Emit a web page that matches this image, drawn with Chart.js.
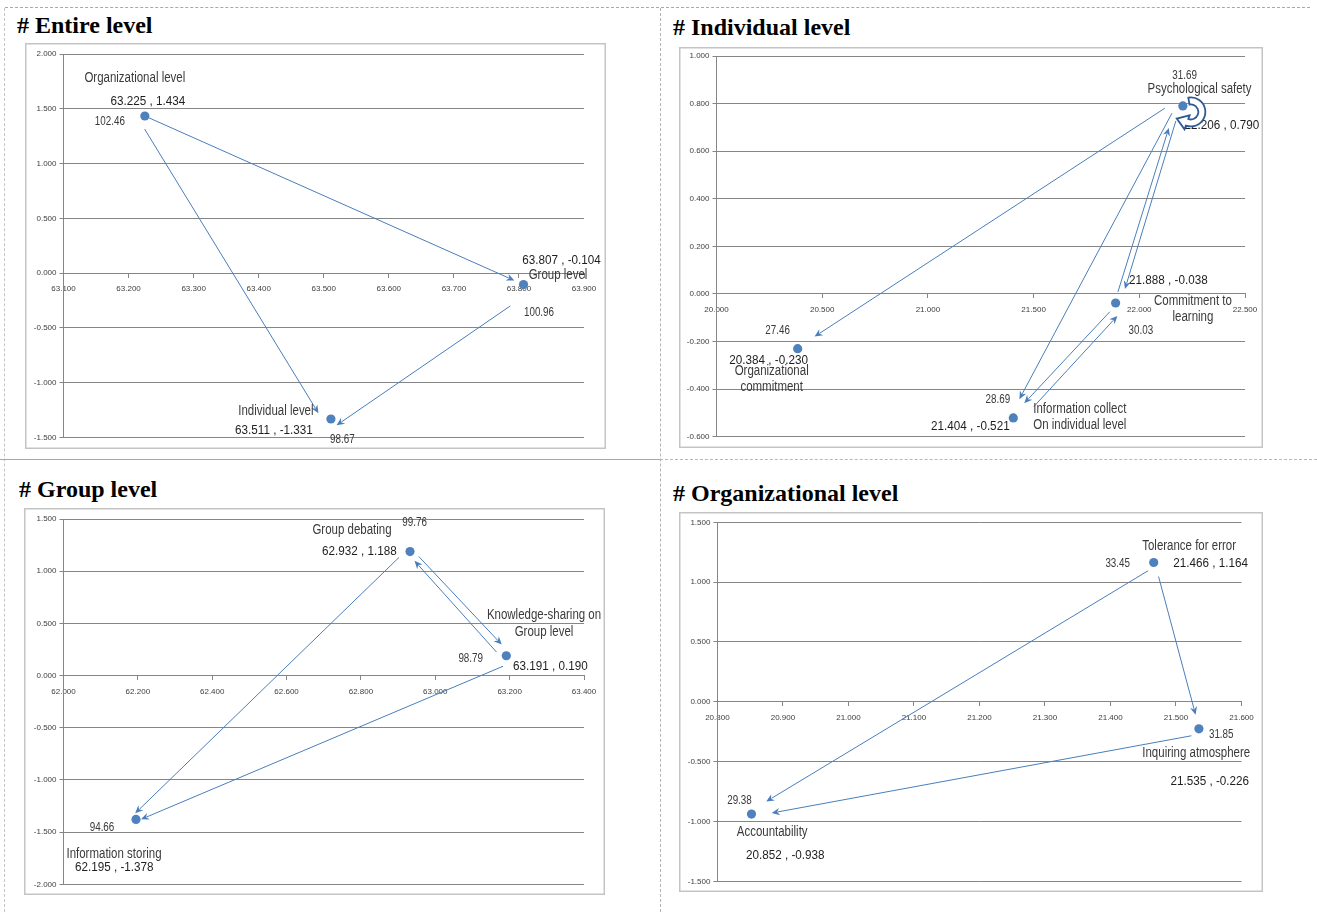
<!DOCTYPE html>
<html>
<head>
<meta charset="utf-8">
<script src="https://cdn.jsdelivr.net/npm/chart.js@4.4.0/dist/chart.umd.min.js"></script>
<style>
  body { margin: 0; width: 1317px; height: 912px; background: #fff; position: relative; overflow: hidden; }
  .title { position: absolute; font: bold 24px "Liberation Serif", "Times New Roman", serif; line-height: 24px; color: #000; white-space: nowrap; }
  canvas { position: absolute; }
  .rule { position: absolute; }
</style>
</head>
<body>
<div class="rule" style="left:5px;top:7px;width:1305px;border-top:1px dashed #a8a8a8"></div>
<div class="rule" style="left:4px;top:8px;height:904px;border-left:1px dashed #c4c4c4"></div>
<div class="rule" style="left:660px;top:8px;height:904px;border-left:1px dashed #b4b4b4"></div>
<div class="rule" style="left:0;top:459px;width:660px;border-top:1px solid #a8a8a8"></div>
<div class="rule" style="left:660px;top:459px;width:657px;border-top:1px dashed #b8b8b8"></div>

<div class="title" style="left:17px;top:13px"># Entire level</div>
<div class="title" style="left:673px;top:15px"># Individual level</div>
<div class="title" style="left:19px;top:477px"># Group level</div>
<div class="title" style="left:673px;top:481px"># Organizational level</div>

<canvas id="entire" width="581" height="406" style="left:25px;top:43px"></canvas>
<canvas id="individual" width="584" height="401" style="left:679px;top:47px"></canvas>
<canvas id="group" width="581" height="387" style="left:24px;top:508px"></canvas>
<canvas id="organizational" width="584" height="380" style="left:679px;top:512px"></canvas>

<script>
"use strict";

// ---- Entire level ----
const entireNames = ["Organizational level", "Group level", "Individual level"];
const entireX = [63.225, 63.807, 63.511];
const entireY = [1.434, -0.104, -1.331];
const entireScores = [102.46, 100.96, 98.67];
const entireLinks = [[0, 1], [0, 2], [1, 2]];
const entireXAxis = [63.1, 63.9, 0.1];
const entireYAxis = [-1.5, 2.0, 0.5];

// ---- Individual level ----
const individualNames = ["Psychological safety", "Commitment to\nlearning", "Information collect\nOn individual level", "Organizational\ncommitment"];
const individualX = [22.206, 21.888, 21.404, 20.384];
const individualY = [0.790, -0.038, -0.521, -0.230];
const individualScores = [31.69, 30.03, 28.69, 27.46];
const individualLinks = [[0, 3], [0, 2], [1, 0], [0, 1], [2, 1], [1, 2]];
const individualSelfLoop = [0];
const individualXAxis = [20.0, 22.5, 0.5];
const individualYAxis = [-0.6, 1.0, 0.2];

// ---- Group level ----
const groupNames = ["Group debating", "Knowledge-sharing on\nGroup level", "Information storing"];
const groupX = [62.932, 63.191, 62.195];
const groupY = [1.188, 0.190, -1.378];
const groupScores = [99.76, 98.79, 94.66];
const groupLinks = [[0, 2], [1, 2], [0, 1], [1, 0]];
const groupXAxis = [62.0, 63.4, 0.2];
const groupYAxis = [-2.0, 1.5, 0.5];

// ---- Organizational level ----
const orgNames = ["Tolerance for error", "Inquiring atmosphere", "Accountability"];
const orgX = [21.466, 21.535, 20.852];
const orgY = [1.164, -0.226, -0.938];
const orgScores = [33.45, 31.85, 29.38];
const orgLinks = [[0, 2], [0, 1], [1, 2]];
const orgXAxis = [20.8, 21.6, 0.1];
const orgYAxis = [-1.5, 1.5, 0.5];

const MARK = "#4f81bd";
const LINK = "#4a7ebb";
const GRID = "#868686";
const LABEL_FONT = "'Liberation Sans', Arial, sans-serif";
const SQUEEZE = 0.82; // Arial Narrow is Arial at 82% width

Chart.defaults.font.family = "'Liberation Sans', Arial, sans-serif";

// layout of each panel: plot area inset, arrow gaps [start, end, offStart, offEnd], label offsets
const panels = [
  {
    id: "entire", names: entireNames, xs: entireX, ys: entireY, scores: entireScores,
    links: entireLinks, xAxis: entireXAxis, yAxis: entireYAxis,
    axisW: 38.5, pad: { top: 11, right: 22, bottom: 11.5 },
    gaps: [[3, 10, 0, 0], [11, 11.4, 7, 7.6], [23, 1, -10, -8.4]],
    pos: [
      { name: [-10, -38], coord: [3, -15], score: [-35, 6] },
      { name: [34.5, -9.4], coord: [38, -24], score: [15.5, 28] },
      { name: [-55, -8], coord: [-57, 11.3], score: [11.5, 20.3] },
    ],
  },
  {
    id: "individual", names: individualNames, xs: individualX, ys: individualY, scores: individualScores,
    links: individualLinks, xAxis: individualXAxis, yAxis: individualYAxis, loop: individualSelfLoop,
    axisW: 37.5, pad: { top: 9, right: 18, bottom: 11.3 },
    gaps: [[16.5, 20.7, 7.7, 1.2], [11.6, 19.3, 6.1, 3.6], [11.2, 25.3, -1.4, -6.2], [16.5, 16.3, 1.8, -4.3], [22, 8.5, 7.8, 9.9], [10.3, 18.3, -1.5, 1.6]],
    pos: [
      { name: [16.7, -16.7], coord: [39, 19], score: [1.8, -30] },
      { name: [77.3, -2], coord: [52.8, -22.3], score: [25.3, 28] },
      { name: [66.5, -8.7], coord: [-43, 8.7], score: [-15.5, -18] },
      { name: [-26, 22.3], coord: [-29, 12], score: [-20, -17.7] },
    ],
  },
  {
    id: "group", names: groupNames, xs: groupX, ys: groupY, scores: groupScores,
    links: groupLinks, xAxis: groupXAxis, yAxis: groupYAxis,
    axisW: 39.5, pad: { top: 11, right: 21, bottom: 10.7 },
    gaps: [[12, 3.6, 3.5, 4.9], [7.2, 4.6, -8.3, -2], [9.5, 11.3, -3.1, -4.2], [9.2, 9.9, -4.7, -3]],
    pos: [
      { name: [-58, -21.4], coord: [-50.6, -0.7], score: [4.6, -29] },
      { name: [37.7, -40.2], coord: [44.2, 10.5], score: [-35.6, 3.1] },
      { name: [-22, 35], coord: [-21.7, 47.4], score: [-34, 8] },
    ],
  },
  {
    id: "organizational", names: orgNames, xs: orgX, ys: orgY, scores: orgScores,
    links: orgLinks, xAxis: orgXAxis, yAxis: orgYAxis,
    axisW: 38.4, pad: { top: 10.3, right: 21.5, bottom: 10.7 },
    gaps: [[9.1, 19.2, -4, 2.8], [14.8, 14.5, -1, -0.5], [8.7, 20.1, -5.4, -2.8]],
    pos: [
      { name: [35.4, -16], coord: [56.8, 0.6], score: [-36, 1.6] },
      { name: [-2.7, 24.2], coord: [10.8, 52.6], score: [22.3, 5.9] },
      { name: [20.7, 18.4], coord: [33.8, 41.7], score: [-12, -13.3] },
    ],
  },
];

function arrow(ctx, ax, ay, bx, by, g) {
  const dx = bx - ax, dy = by - ay, len = Math.hypot(dx, dy);
  const ux = dx / len, uy = dy / len, nx = -uy, ny = ux;
  const sx = ax + ux * g[0] + nx * g[2], sy = ay + uy * g[0] + ny * g[2];
  const ex = bx - ux * g[1] + nx * g[3], ey = by - uy * g[1] + ny * g[3];
  const l = Math.hypot(ex - sx, ey - sy);
  const vx = (ex - sx) / l, vy = (ey - sy) / l;
  const head = 8, half = 3.6;
  ctx.beginPath();
  ctx.moveTo(sx, sy);
  ctx.lineTo(ex - vx * (head - 2), ey - vy * (head - 2));
  ctx.stroke();
  ctx.beginPath();
  ctx.moveTo(ex, ey);
  ctx.lineTo(ex - vx * head - vy * half, ey - vy * head + vx * half);
  ctx.lineTo(ex - vx * (head - 2.5), ey - vy * (head - 2.5));
  ctx.lineTo(ex - vx * head + vy * half, ey - vy * head - vx * half);
  ctx.closePath();
  ctx.fill();
}

function selfLoop(ctx, px, py) {
  const cx = px + 8, cy = py + 6, rm = 11, rOut = 14.5, rIn = 7.5;
  const a0 = -100 * Math.PI / 180, a1 = 110 * Math.PI / 180;
  const c = Math.cos(a1), s = Math.sin(a1);
  const tx = -s, ty = c;
  ctx.beginPath();
  ctx.arc(cx, cy, rOut, a0, a1, false);
  ctx.lineTo(cx + (rm + 7.5) * c, cy + (rm + 7.5) * s);
  ctx.lineTo(cx + rm * c + tx * 11, cy + rm * s + ty * 11);
  ctx.lineTo(cx + (rm - 7.5) * c, cy + (rm - 7.5) * s);
  ctx.lineTo(cx + rIn * c, cy + rIn * s);
  ctx.arc(cx, cy, rIn, a1, a0, true);
  ctx.closePath();
  ctx.fillStyle = "#fff";
  ctx.fill();
  ctx.strokeStyle = "#2f5a94";
  ctx.lineWidth = 1.8;
  ctx.stroke();
}

function narrowText(ctx, str, x, y, size, color, squeeze = SQUEEZE) {
  ctx.save();
  ctx.font = `${size}px ${LABEL_FONT}`;
  ctx.fillStyle = color;
  ctx.translate(x, y);
  ctx.scale(squeeze, 1);
  ctx.fillText(str, 0, 0);
  ctx.restore();
}

function overlay(p) {
  const px = (chart, i) => [chart.scales.x.getPixelForValue(p.xs[i]), chart.scales.y.getPixelForValue(p.ys[i])];
  return {
    id: "overlay-" + p.id,
    beforeDraw(chart) {
      const ctx = chart.ctx;
      ctx.save();
      ctx.strokeStyle = "#c4c4c4";
      ctx.lineWidth = 1.5;
      ctx.strokeRect(0.75, 0.75, chart.width - 1.5, chart.height - 1.5);
      ctx.restore();
    },
    beforeDatasetsDraw(chart) {
      const ctx = chart.ctx;
      ctx.save();
      ctx.strokeStyle = LINK;
      ctx.fillStyle = LINK;
      ctx.lineWidth = 1;
      p.links.forEach(([a, b], k) => {
        const [ax, ay] = px(chart, a);
        const [bx, by] = px(chart, b);
        arrow(ctx, ax, ay, bx, by, p.gaps[k]);
      });
      ctx.restore();
    },
    afterDatasetsDraw(chart) {
      const ctx = chart.ctx;
      ctx.save();
      ctx.textAlign = "center";
      ctx.textBaseline = "middle";
      p.names.forEach((name, i) => {
        const [x, y] = px(chart, i);
        const pos = p.pos[i];
        name.split("\n").forEach((line, j) =>
          narrowText(ctx, line, x + pos.name[0], y + pos.name[1] + j * 16.3, 14, "#3a3a3a"));
        narrowText(ctx, `${p.xs[i].toFixed(3)} , ${p.ys[i].toFixed(3)}`, x + pos.coord[0], y + pos.coord[1], 13.6, "#1e1e1e", 0.86);
        narrowText(ctx, p.scores[i].toFixed(2), x + pos.score[0], y + pos.score[1], 12, "#3a3a3a");
      });
      (p.loop || []).forEach((i) => {
        const [x, y] = px(chart, i);
        selfLoop(ctx, x, y);
      });
      ctx.restore();
    },
  };
}

function build(p) {
  const tickFont = { size: 8 };
  return new Chart(document.getElementById(p.id), {
    type: "scatter",
    data: {
      datasets: [{
        data: p.xs.map((x, i) => ({ x, y: p.ys[i] })),
        pointRadius: 4.6,
        pointHoverRadius: 4.6,
        pointBorderWidth: 0,
        backgroundColor: MARK,
        borderColor: MARK,
      }],
    },
    options: {
      responsive: false,
      animation: false,
      events: [],
      layout: { padding: { left: 0, top: p.pad.top, right: p.pad.right, bottom: p.pad.bottom } },
      plugins: { legend: { display: false }, tooltip: { enabled: false } },
      scales: {
        x: {
          type: "linear",
          position: { y: 0 },
          min: p.xAxis[0], max: p.xAxis[1],
          ticks: { stepSize: p.xAxis[2], autoSkip: false, maxRotation: 0, font: tickFont, color: "#404040", padding: 7,
                   callback: (v) => v.toFixed(3) },
          grid: { drawOnChartArea: false, tickLength: 4, color: GRID },
          border: { color: GRID },
          afterFit: (s) => { s.height = 0; s.paddingLeft = 0; s.paddingRight = 0; },
        },
        y: {
          type: "linear",
          min: p.yAxis[0], max: p.yAxis[1],
          ticks: { stepSize: p.yAxis[2], font: tickFont, color: "#404040", padding: 3,
                   callback: (v) => v.toFixed(3) },
          grid: { color: GRID, tickLength: 4 },
          border: { color: GRID },
          afterFit: (s) => { s.width = p.axisW; s.paddingTop = 0; s.paddingBottom = 0; },
        },
      },
    },
    plugins: [overlay(p)],
  });
}

panels.forEach(build);
</script>
</body>
</html>
